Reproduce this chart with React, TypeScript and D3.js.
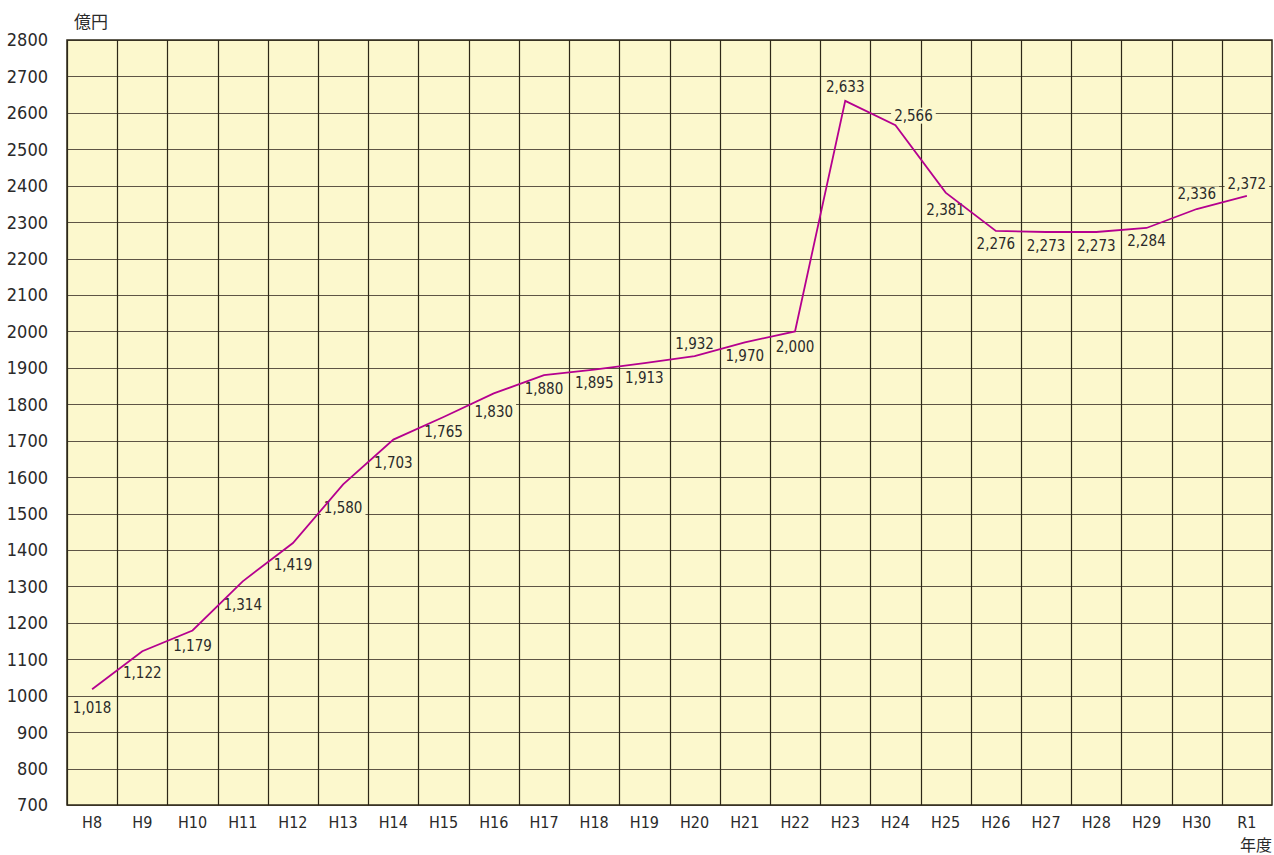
import React, { useEffect, useRef } from 'react';
import * as d3 from 'd3';

// fiscal years (Heisei 8 .. Reiwa 1)
const years = ['H8', 'H9', 'H10', 'H11', 'H12', 'H13', 'H14', 'H15', 'H16', 'H17', 'H18', 'H19',
  'H20', 'H21', 'H22', 'H23', 'H24', 'H25', 'H26', 'H27', 'H28', 'H29', 'H30', 'R1'];
// amounts in 億円
const amounts = [1018, 1122, 1179, 1314, 1419, 1580, 1703, 1765, 1830, 1880, 1895, 1913,
  1932, 1970, 2000, 2633, 2566, 2381, 2276, 2273, 2273, 2284, 2336, 2372];
const yTicks = [700, 800, 900, 1000, 1100, 1200, 1300, 1400, 1500, 1600, 1700, 1800, 1900,
  2000, 2100, 2200, 2300, 2400, 2500, 2600, 2700, 2800];

// label placement relative to the point (pixels)
const labelDx = [0, 0, 0, 0, 0, 0, 0, 0, 0, 0, 0, 0, 0, 0, 0, 0, 18, 0, 0, 0, 0, 0, 0, 0];
const labelDy = [18, 21, 15, 23, 22, 23, 23, 15, 18, 13, 13, 14, -13, 13, 15, -14, -10, 17, 13, 14, 14, 13, -15, -12];

const App: React.FC = () => {
  const svgRef = useRef<SVGSVGElement>(null);

  useEffect(() => {
    const W = 1274, H = 855;
    const margin = { top: 40, right: 2, bottom: 50, left: 67 };
    const width = W - margin.left - margin.right;
    const height = H - margin.top - margin.bottom;
    const font = "'DejaVu Sans Condensed', 'Liberation Sans Narrow', 'Liberation Sans', sans-serif";

    const root = d3.select(svgRef.current);
    root.selectAll('*').remove();
    root.attr('width', W).attr('height', H)
      .style('display', 'block')
      .style('position', 'absolute')
      .style('left', '0px')
      .style('top', '0px');

    const svg = root.append('g').attr('transform', `translate(${margin.left},${margin.top})`);

    const x = d3.scaleBand<string>().domain(years).range([0, width]);
    const y = d3.scaleLinear().domain([700, 2800]).range([height, 0]);

    // plot background
    svg.append('rect')
      .attr('width', width).attr('height', height)
      .attr('fill', '#fcf8cd');

    // horizontal grid
    svg.selectAll('.hgrid')
      .data(yTicks)
      .enter()
      .append('line')
      .attr('x1', 0).attr('x2', width)
      .attr('y1', d => Math.round(y(d)) + 0.5).attr('y2', d => Math.round(y(d)) + 0.5)
      .attr('stroke', '#5e5545').attr('stroke-width', 1.2);

    // vertical grid
    svg.selectAll('.vgrid')
      .data(years)
      .enter()
      .append('line')
      .attr('x1', d => Math.round(x(d)!) + 0.5).attr('x2', d => Math.round(x(d)!) + 0.5)
      .attr('y1', 0).attr('y2', height)
      .attr('stroke', '#2e2818').attr('stroke-width', 1.2);

    // border
    svg.append('rect')
      .attr('width', width).attr('height', height)
      .attr('fill', 'none').attr('stroke', '#2e2818').attr('stroke-width', 1.5);

    // y tick labels
    svg.selectAll('.ytick')
      .data(yTicks)
      .enter()
      .append('text')
      .attr('x', -19)
      .attr('y', d => y(d))
      .attr('dy', '0.36em')
      .attr('text-anchor', 'end')
      .style('font-family', font)
      .style('font-size', '18px')
      .style('fill', '#2a2a2a')
      .text(d => d);

    // x tick labels
    svg.selectAll('.xtick')
      .data(years)
      .enter()
      .append('text')
      .attr('x', d => x(d)! + x.bandwidth() / 2)
      .attr('y', height + 23)
      .attr('text-anchor', 'middle')
      .style('font-family', font)
      .style('font-size', '16px')
      .style('fill', '#2a2a2a')
      .text(d => d);

    // unit labels
    svg.append('text')
      .attr('x', 7).attr('y', -12)
      .style('font-family', "'Noto Sans CJK JP', sans-serif")
      .style('font-size', '17px')
      .style('fill', '#2a2a2a')
      .text('億円');

    svg.append('text')
      .attr('x', width).attr('y', height + 46)
      .attr('text-anchor', 'end')
      .style('font-family', "'Noto Sans CJK JP', sans-serif")
      .style('font-size', '16px')
      .style('fill', '#2a2a2a')
      .text('年度');

    // value labels with background boxes
    const fmt = d3.format(',');
    const labels = svg.selectAll('.vlabel')
      .data(amounts)
      .enter()
      .append('g')
      .attr('transform', (d, i) =>
        `translate(${x(years[i])! + x.bandwidth() / 2 + labelDx[i]},${y(d) + labelDy[i]})`);

    labels.append('text')
      .attr('text-anchor', 'middle')
      .attr('dy', '0.36em')
      .style('font-family', font)
      .style('font-size', '15px')
      .style('fill', '#2a2a2a')
      .text(d => fmt(d));

    labels.each(function () {
      const g = d3.select(this);
      const t = g.select<SVGTextElement>('text').node()!;
      const b = t.getBBox();
      g.insert('rect', 'text')
        .attr('x', b.x - 3).attr('y', b.y + 1)
        .attr('width', b.width + 6).attr('height', b.height - 2)
        .attr('fill', '#fcf8cd');
    });

    // data line
    const line = d3.line<number>()
      .x((_, i) => x(years[i])! + x.bandwidth() / 2)
      .y(d => y(d));

    svg.append('path')
      .datum(amounts)
      .attr('fill', 'none')
      .attr('stroke', '#b5008f')
      .attr('stroke-width', 1.8)
      .attr('d', line);
  }, []);

  return <svg ref={svgRef}></svg>;
};

export default App;
